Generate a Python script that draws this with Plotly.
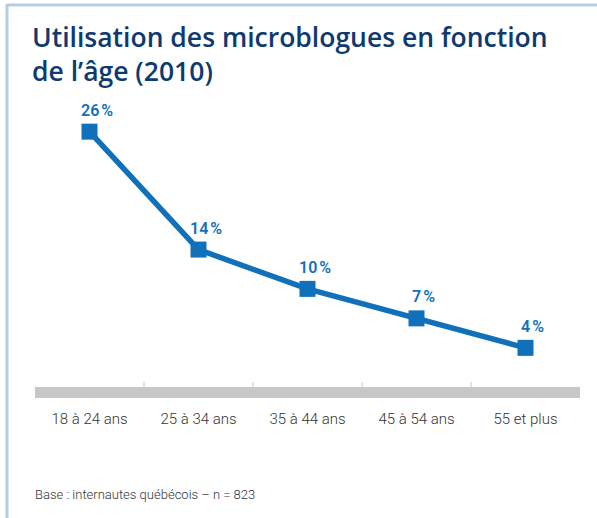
import plotly.graph_objects as go

categories = ["18 à 24 ans", "25 à 34 ans", "35 à 44 ans", "45 à 54 ans", "55 et plus"]
values = [26, 14, 10, 7, 4]
labels = ["26\u202f%", "14\u202f%", "10\u202f%", "7\u202f%", "4\u202f%"]

BLUE = "#1070b9"
NAVY = "#0d3a70"
W, H = 597, 518
L, R, T, B = 35, 17, 112, 122

xs = list(range(len(categories)))

fig = go.Figure()
fig.add_trace(go.Scatter(
    x=xs, y=values,
    mode="lines+markers",
    line=dict(color=BLUE, width=5.5),
    marker=dict(symbol="square", size=16, color=BLUE),
    cliponaxis=False, hoverinfo="skip",
))

pw = W - L - R
ph = H - T - B
shapes = []
# grey baseline band
shapes.append(dict(type="rect", xref="x", yref="paper", x0=-0.5, x1=len(categories) - 0.5,
                   y0=-2 / ph, y1=9 / ph, fillcolor="#c6c7c9", line=dict(width=0), layer="below"))
# small ticks between categories
for i in range(len(categories) - 1):
    shapes.append(dict(type="line", xref="x", yref="paper", x0=i + 0.5, x1=i + 0.5,
                       y0=9 / ph, y1=14 / ph, line=dict(color="#c6c7c9", width=1)))
# frame lines (top and left)
shapes.append(dict(type="line", xref="paper", yref="paper",
                   x0=(7 - L) / pw, x1=(W - L) / pw, y0=(H - B - 5) / ph, y1=(H - B - 5) / ph,
                   line=dict(color="#b4cfe1", width=3)))
shapes.append(dict(type="line", xref="paper", yref="paper",
                   x0=(7 - L) / pw, x1=(7 - L) / pw, y0=(H - B - 4) / ph, y1=-B / ph,
                   line=dict(color="#b4cfe1", width=3)))

annotations = [dict(x=x, y=v, text=t, showarrow=False, xanchor="center", yanchor="bottom",
                    xshift=7, yshift=10,
                    font=dict(family="Roboto", size=16, color=BLUE, weight=600))
               for x, v, t in zip(xs, values, labels)]
annotations.append(dict(text="Base : internautes québécois – n = 823", xref="paper", yref="paper",
                        x=(33 - L) / pw, y=-(495 - (H - B)) / ph, xanchor="left", yanchor="middle",
                        showarrow=False,
                        font=dict(family="Roboto", size=13, color="#333333", weight=300)))

fig.update_layout(
    width=W, height=H,
    margin=dict(l=L, r=R, t=T, b=B),
    paper_bgcolor="white", plot_bgcolor="white",
    showlegend=False,
    shapes=shapes,
    title=dict(text="Utilisation des microblogues en fonction<br>de l’âge (2010)",
               x=32 / W, xanchor="left", y=1 - 47 / H, yanchor="top",
               font=dict(family="Open Sans, Roboto", size=26.5, color=NAVY, weight=600)),
    xaxis=dict(range=[-0.5, len(categories) - 0.5], tickmode="array",
               tickvals=xs, ticktext=categories,
               showgrid=False, zeroline=False, showline=False, ticks="",
               tickfont=dict(family="Roboto", size=15, color="#333333", weight=300),
               ticklabelstandoff=12, fixedrange=True),
    yaxis=dict(range=[-0.9, 28], visible=False, fixedrange=True),
    annotations=annotations,
)

fig.write_html("out.html", config={"displayModeBar": False},
               post_script="document.body.style.margin='0';")
